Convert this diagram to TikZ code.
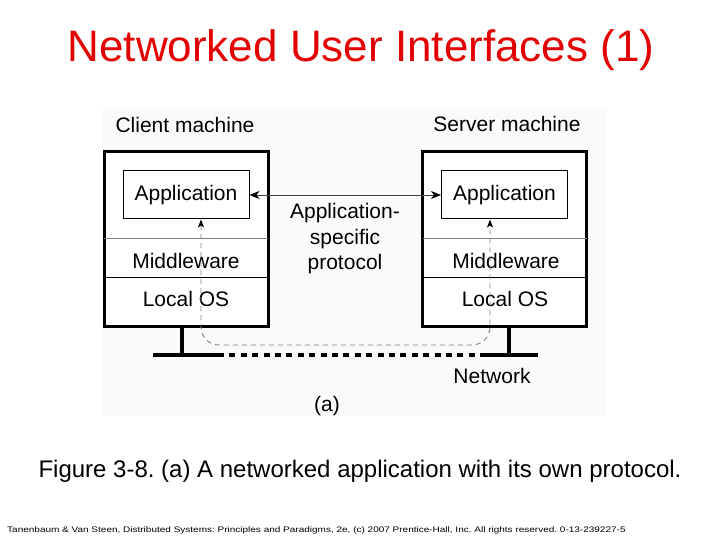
\documentclass[tikz,border=0pt]{standalone}
\usepackage{fontspec}
\setmainfont{Liberation Sans}
\usetikzlibrary{arrows.meta,calc}
\definecolor{title_red}{RGB}{226,0,0}
\definecolor{fig_bg}{RGB}{250,250,250}
\tikzset{
  diag_font/.style = {font=\fontsize{21}{25.5}\selectfont},
  mach_box/.style = {draw=black, line width=3pt, fill=white, minimum width=164pt, minimum height=174pt, inner sep=0pt},
  app_box/.style = {diag_font, draw=black, line width=1pt, fill=white, minimum width=126pt, minimum height=48pt, inner sep=0pt, text height=15pt, text depth=4.5pt},
  lbl/.style = {diag_font, inner sep=0pt, anchor=base},
  layer_line/.style = {line width=1pt, shorten <=1.5pt, shorten >=1.5pt},
  proto_arrow/.style = {{Stealth[length=10pt,width=8pt,inset=3pt,black]}-{Stealth[length=10pt,width=8pt,inset=3pt,black]}, line width=0.9pt, black!75},
  msg_path/.style = {{Stealth[length=8pt,width=6pt,inset=2pt,black]}-{Stealth[length=8pt,width=6pt,inset=2pt,black]}, dash pattern=on 5pt off 4pt, line width=0.9pt, black!50, rounded corners=18pt},
  net_wire/.style = {line width=4.5pt, black}
}
\begin{document}
\frenchspacing
\begin{tikzpicture}[x=1pt,y=-1pt]
\useasboundingbox (0,0) rectangle (720,540);
\fill[fig_bg] (103,108) rectangle (607,416);

% title and captions
\node [inner sep=0pt, anchor=base, text=title_red, font=\fontsize{44}{50}\selectfont] (title) at (361,61.7) {Networked User Interfaces (1)};
\node [inner sep=0pt, anchor=base, font=\fontsize{24}{28}\selectfont] (caption) at (360,477) {Figure 3-8. (a) A networked application with its own protocol.};
\node [inner sep=0pt, anchor=base west, font=\fontsize{8}{10}\selectfont] (credit) at (7,532.7) {\scalebox{1.25}[1]{Tanenbaum \& Van Steen, Distributed Systems: Principles and Paradigms, 2e, (c) 2007 Prentice-Hall, Inc. All rights reserved. 0-13-239227-5}};

% machines
\node [mach_box] (c_mach) at (186,239) {};
\node [mach_box] (s_mach) at (504.5,239) {};
\draw [layer_line, black!50] (c_mach.west |- 0,238) -- (c_mach.east |- 0,238);
\draw [layer_line] (c_mach.west |- 0,277) -- (c_mach.east |- 0,277);
\draw [layer_line, black!50] (s_mach.west |- 0,238) -- (s_mach.east |- 0,238);
\draw [layer_line] (s_mach.west |- 0,277) -- (s_mach.east |- 0,277);

\node [app_box] (c_app) at (186,195) {Application};
\node [app_box] (s_app) at (504.5,195) {Application};

\node [lbl] (c_mid) at (186,268) {Middleware};
\node [lbl] (c_os) at (186,306) {Local OS};
\node [lbl] (s_mid) at (506,268) {Middleware};
\node [lbl] (s_os) at (505,306) {Local OS};

\node [lbl] (c_name) at (185,132.7) {Client machine};
\node [lbl] (s_name) at (507,131.7) {Server machine};

% protocol
\draw [proto_arrow] (c_app.east) -- (s_app.west);
\node [diag_font, align=center, inner sep=0pt] (proto) at (345,239) {Application-\\specific\\protocol};

% network
\coordinate (c_foot) at ($(c_mach.south)+(-4,0)$);
\coordinate (s_foot) at ($(s_mach.south)+(4.5,0)$);
\coordinate (net_l) at (153,355);
\coordinate (net_r) at (538,355);
\coordinate (net_cl) at (218,355);
\coordinate (net_cr) at (480,355);
\draw [net_wire] (c_foot) -- (c_foot |- net_l);
\draw [net_wire] (s_foot) -- (s_foot |- net_l);
\draw [net_wire] (net_l) -- (net_cl);
\draw [net_wire] (net_cr) -- (net_r);
\draw [net_wire, dash pattern=on 6pt off 5.4pt] (net_cl) -- (net_cr);
\node [lbl] (net_name) at (492,383) {Network};
\node [lbl] (sub_a) at (327,411) {(a)};

% message path through the layers
\coordinate (c_up) at ($(c_app.south)+(15,0)$);
\coordinate (s_up) at ($(s_app.south)+(-14.5,0)$);
\draw [msg_path] (c_up) -- (c_up |- 0,345) -- (s_up |- 0,345) -- (s_up);
\end{tikzpicture}
\end{document}
